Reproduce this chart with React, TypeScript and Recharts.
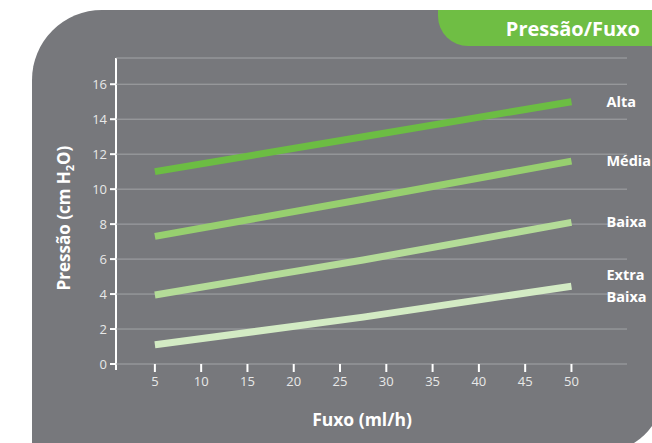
import React from 'react';
import { LineChart, Line, XAxis, YAxis, CartesianGrid, LabelList } from 'recharts';

const flow = [5, 27.5, 50];
const alta = [11, 13, 15];
const media = [7.3, 9.42, 11.6];
const baixa = [3.95, 5.95, 8.1];
const extraBaixa = [1.1, 2.68, 4.45];

const xTicks = [5, 10, 15, 20, 25, 30, 35, 40, 45, 50];
const yTicks = [0, 2, 4, 6, 8, 10, 12, 14, 16];

const series = [
  { key: 'alta', name: 'Alta', values: alta, color: '#6cbd43' },
  { key: 'media', name: 'Média', values: media, color: '#97cf6f' },
  { key: 'baixa', name: 'Baixa', values: baixa, color: '#b4dc98' },
  { key: 'extra', name: 'Extra\nBaixa', values: extraBaixa, color: '#d3ebc4' },
];

const data = flow.map((f, i) => {
  const row: Record<string, number> = { flow: f };
  series.forEach((s) => {
    row[s.key] = s.values[i];
  });
  return row;
});

const FONT = '"Open Sans", sans-serif';
const PANEL = '#77787c';

const endLabel = (name: string) => (props: any) => {
  const { x, y, index } = props;
  if (index !== flow.length - 1) return null;
  const lines = name.split('\n');
  const startY = y - ((lines.length - 1) * 22) / 2;
  return (
    <text x={x + 35} y={startY} fill="#ffffff" fontFamily={FONT} fontWeight={700} fontSize={14.5}>
      {lines.map((l, i) => (
        <tspan key={i} x={x + 35} dy={i === 0 ? '0.35em' : 22}>
          {l}
        </tspan>
      ))}
    </text>
  );
};

export default function App() {
  return (
    <div style={{ position: 'fixed', left: 0, top: 0, width: 652, height: 443, background: '#fff' }}>
      <svg width={652} height={443} style={{ position: 'absolute', left: 0, top: 0 }}>
        <path
          d="M32 443 L32 80 A70 70 0 0 1 102 10 L652 10 L652 426 A60 60 0 0 1 634 443 Z"
          fill={PANEL}
        />
        <path d="M438 10 L652 10 L652 46 L468 46 A30 30 0 0 1 438 16 Z" fill="#6fbe44" />
        <text
          x={640}
          y={29}
          dy="0.35em"
          textAnchor="end"
          fill="#ffffff"
          fontFamily={FONT}
          fontWeight={700}
          fontSize={20}
        >
          Pressão/Fuxo
        </text>
        <text
          x={64}
          y={218}
          dy="0.35em"
          textAnchor="middle"
          transform="rotate(-90 64 218)"
          fill="#ffffff"
          fontFamily={FONT}
          fontWeight={700}
          fontSize={17}
        >
          Pressão (cm H<tspan fontSize={11} dy={4}>2</tspan>
          <tspan dy={-4}>O)</tspan>
        </text>
        <text
          x={362}
          y={420}
          dy="0.35em"
          textAnchor="middle"
          fill="#ffffff"
          fontFamily={FONT}
          fontWeight={700}
          fontSize={17.5}
        >
          Fuxo (ml/h)
        </text>
        <line x1={116} y1={58} x2={116} y2={370} stroke="#ffffff" strokeWidth={2} />
      </svg>
      <div style={{ position: 'absolute', left: 0, top: 0 }}>
        <LineChart
          width={652}
          height={443}
          data={data}
          margin={{ top: 58, right: 25, bottom: 39, left: 56 }}
        >
          <CartesianGrid horizontal vertical={false} stroke="#a3a4a7" strokeWidth={1} />
          <XAxis
            dataKey="flow"
            type="number"
            domain={[0.8, 56]}
            ticks={xTicks}
            allowDataOverflow
            axisLine={false}
            tickLine={{ stroke: '#ffffff', strokeWidth: 2 }}
            tickSize={8}
            tickMargin={5}
            height={40}
            tick={{ fill: '#e8e8e8', fontSize: 13, fontFamily: FONT }}
          />
          <YAxis
            type="number"
            domain={[0, 17.5]}
            ticks={yTicks}
            allowDataOverflow
            axisLine={false}
            tickLine={{ stroke: '#ffffff', strokeWidth: 2 }}
            tickSize={6}
            tickMargin={3}
            width={60}
            tick={{ fill: '#e8e8e8', fontSize: 13, fontFamily: FONT }}
          />
          {series.map((s) => (
            <Line
              key={s.key}
              dataKey={s.key}
              type="monotone"
              stroke={s.color}
              strokeWidth={7}
              dot={false}
              activeDot={false}
              isAnimationActive={false}
            >
              <LabelList dataKey={s.key} content={endLabel(s.name)} />
            </Line>
          ))}
        </LineChart>
      </div>
    </div>
  );
}
